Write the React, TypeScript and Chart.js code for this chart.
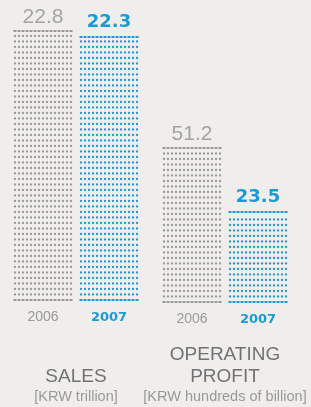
import { useEffect, useRef } from 'react';
import { Chart, registerables } from 'chart.js';

Chart.register(...registerables);

// ---- data ----
const years = ['2006', '2007'];
const salesValues = [22.8, 22.3];
const profitValues = [51.2, 23.5];
const salesTitle = ['SALES'];
const salesUnit = '[KRW trillion]';
const profitTitle = ['OPERATING', 'PROFIT'];
const profitUnit = '[KRW hundreds of billion]';
const salesRange = [0, 22.8];
const profitRange = [-16.3, 51.2];

// ---- styles ----
const FONT = '"Liberation Sans", Arial, Helvetica, sans-serif';
const BOLD_FONT = '"DejaVu Sans", "Liberation Sans", Arial, sans-serif';
const GRAY = '#999999';
const BLUE = '#1a9ad6';
const LABEL_GRAY = '#a3a3a3';
const barColors = [GRAY, BLUE];

const dotPlugin = {
  id: 'dotBars',
  afterDatasetsDraw(chart: any) {
    const ctx = chart.ctx;
    chart.data.datasets.forEach((_ds: any, di: number) => {
      const meta = chart.getDatasetMeta(di);
      meta.data.forEach((bar: any, i: number) => {
        const { x, y, base, width } = bar.getProps(['x', 'y', 'base', 'width'], true);
        const left = Math.round(x - width / 2);
        const cols = Math.floor(width / 4);
        const top = Math.round(y);
        const bottom = Math.round(base);
        const rows: { yy: number; dense: boolean }[] = [];
        rows.push({ yy: bottom - 1, dense: true });
        for (let k = 1; ; k++) {
          const yy = bottom - 1 - k * 5.5;
          if (yy < top + 4) break;
          rows.push({ yy, dense: false });
        }
        rows.push({ yy: top + 1, dense: true });
        ctx.save();
        ctx.fillStyle = barColors[i];
        rows.forEach((r) => {
          for (let c = 0; c < cols; c++) {
            const cx = left + c * 4 + 2;
            if (r.dense) {
              ctx.fillRect(cx - 1.5, r.yy - 1, 3, 2);
            } else {
              ctx.beginPath();
              ctx.arc(cx, r.yy, 1.15, 0, Math.PI * 2);
              ctx.fill();
            }
          }
        });
        ctx.restore();
      });
    });
  },
};

const valuePlugin = {
  id: 'valueLabels',
  afterDatasetsDraw(chart: any) {
    const ctx = chart.ctx;
    const ds = chart.data.datasets[0];
    const meta = chart.getDatasetMeta(0);
    meta.data.forEach((bar: any, i: number) => {
      const { x, y } = bar.getProps(['x', 'y'], true);
      ctx.save();
      ctx.textAlign = 'center';
      ctx.textBaseline = 'alphabetic';
      if (i === 0) {
        ctx.fillStyle = LABEL_GRAY;
        ctx.font = `normal 21px ${FONT}`;
        ctx.fillText(Number(ds.data[i]).toFixed(1), x, y - 7.5);
      } else {
        ctx.fillStyle = BLUE;
        ctx.font = `bold 18px ${BOLD_FONT}`;
        ctx.fillText(Number(ds.data[i]).toFixed(1), x, y - 9);
      }
      ctx.restore();
    });
  },
};

function makeBottomPlugin(title: string[], unit: string) {
  return {
    id: 'bottomLabels',
    afterDraw(chart: any) {
      const ctx = chart.ctx;
      const { left, right } = chart.chartArea;
      const cx = (left + right) / 2;
      const h = chart.height;
      ctx.save();
      ctx.textAlign = 'center';
      ctx.textBaseline = 'middle';
      ctx.fillStyle = '#999999';
      ctx.font = `normal 14.5px ${FONT}`;
      ctx.fillText(unit, cx, h - 10);
      ctx.fillStyle = '#727272';
      ctx.font = `normal 19px ${FONT}`;
      const n = title.length;
      title.forEach((t, k) => {
        ctx.fillText(t, cx, h - 30 - (n - 1 - k) * 22.5);
      });
      ctx.restore();
    },
  };
}

type Props = {
  values: number[];
  range: number[];
  title: string[];
  unit: string;
  width: number;
  padding: { left: number; right: number; top: number; bottom: number };
  style: any;
};

function DotBarChart({ values, range, title, unit, width, padding, style }: Props) {
  const ref = useRef<HTMLCanvasElement>(null);
  useEffect(() => {
    if (!ref.current) return;
    const chart = new Chart(ref.current, {
      type: 'bar',
      data: {
        labels: years,
        datasets: [
          {
            data: values,
            backgroundColor: 'rgba(0,0,0,0)',
            borderWidth: 0,
            base: range[0],
            barPercentage: 60 / 66,
            categoryPercentage: 1,
          } as any,
        ],
      },
      options: {
        responsive: false,
        animation: false,
        devicePixelRatio: 1,
        layout: { padding },
        plugins: { legend: { display: false }, tooltip: { enabled: false } },
        scales: {
          x: {
            grid: { display: false, drawTicks: false },
            border: { display: false },
            ticks: {
              padding: 8,
              color: (c: any) => (c.index === 0 ? '#9a9a9a' : BLUE),
              font: (c: any) =>
                c.index === 0
                  ? { family: FONT, size: 14, weight: 'normal' }
                  : { family: BOLD_FONT, size: 13, weight: 'bold', lineHeight: 16.8 / 13 },
            },
          },
          y: { display: false, min: range[0], max: range[1] },
        },
      } as any,
      plugins: [dotPlugin, valuePlugin, makeBottomPlugin(title, unit)],
    });
    return () => chart.destroy();
  }, []);
  return (
    <canvas
      ref={ref}
      width={width}
      height={407}
      style={{ position: 'absolute', top: 0, width, height: 407, ...style }}
    />
  );
}

export default function App() {
  return (
    <div
      style={{
        position: 'fixed',
        left: 0,
        top: 0,
        width: 311,
        height: 407,
        background: '#efeeec',
        overflow: 'hidden',
      }}
    >
      <DotBarChart
        values={salesValues}
        range={salesRange}
        title={salesTitle}
        unit={salesUnit}
        width={152}
        padding={{ left: 10, right: 10, top: 30, bottom: 73.2 }}
        style={{ left: 0 }}
      />
      <DotBarChart
        values={profitValues}
        range={profitRange}
        title={profitTitle}
        unit={profitUnit}
        width={171}
        padding={{ left: 19, right: 20, top: 147, bottom: 71.2 }}
        style={{ left: 140 }}
      />
    </div>
  );
}
